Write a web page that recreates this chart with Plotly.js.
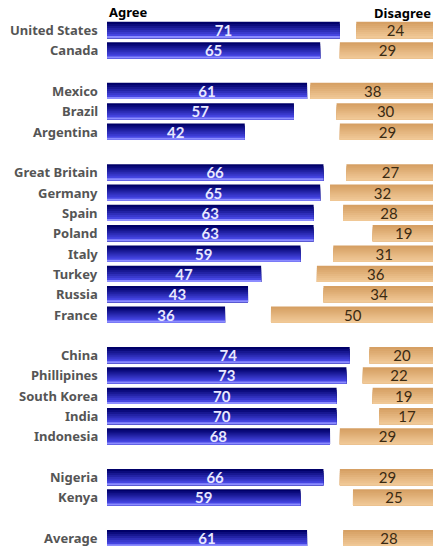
<!DOCTYPE html>
<html><head><meta charset="utf-8">
<script src="https://cdn.plot.ly/plotly-3.0.1.min.js"></script>
<style>html,body{margin:0;padding:0;background:#fff;overflow:hidden;}#chart{width:433px;height:546px;}</style>
</head><body><div id="chart"></div>
<script>
const countries = ["United States","Canada","Mexico","Brazil","Argentina","Great Britain","Germany","Spain","Poland","Italy","Turkey","Russia","France","China","Phillipines","South Korea","India","Indonesia","Nigeria","Kenya","Average"];
const agree = [71,65,61,57,42,66,65,63,63,59,47,43,36,74,73,70,70,68,66,59,61];
const disagree = [24,29,38,30,29,27,32,28,19,31,36,34,50,20,22,19,17,29,29,25,28];
const groupSizes = [2,3,8,5,2,1];
const total = 100;

// row index for each country: one empty row between groups
const rows = [];
let r = 0;
groupSizes.forEach(n => { for (let i = 0; i < n; i++) rows.push(r++); r++; });

const nBands = 8, barH = 0.8;
function lerp(a,b,t){return Math.round(a+(b-a)*t);}
function band(c0,c1,t){return `rgb(${lerp(c0[0],c1[0],t)},${lerp(c0[1],c1[1],t)},${lerp(c0[2],c1[2],t)})`;}

const traces = [];
const blueTop=[0,0,105], blueBot=[80,80,245];
const tanTop=[214,160,100], tanBot=[240,200,150];
const dBase = disagree.map(d => total - d);
for (let i = 0; i < nBands; i++) {
  const t = i/(nBands-1);
  let bc = band(blueTop, blueBot, t);
  if (i === nBands-1) bc = 'rgb(140,140,255)';
  const off = -barH/2 + i*barH/nBands, w = barH - i*barH/nBands;
  traces.push({type:'bar', orientation:'h', y:rows, x:agree, base:0,
    width:w, offset:off,
    marker:{color:bc, line:{width:0}}, hoverinfo:'skip', showlegend:false});
  traces.push({type:'bar', orientation:'h', y:rows, x:disagree, base:dBase,
    width:w, offset:off,
    marker:{color:band(tanTop, tanBot, t), line:{width:0}}, hoverinfo:'skip', showlegend:false});
}
// text layers
traces.push({type:'bar', orientation:'h', y:rows, x:agree, base:0, width:barH, offset:-barH/2,
  marker:{color:'rgba(0,0,0,0)'}, text:agree.map(String), textposition:'inside', insidetextanchor:'middle',
  constraintext:'none', textangle:0,
  textfont:{family:'Lato, sans-serif', size:15, color:'#e8e8ff', weight:'bold'}, hoverinfo:'skip', showlegend:false});
traces.push({type:'bar', orientation:'h', y:rows, x:disagree, base:dBase, width:barH, offset:-barH/2,
  marker:{color:'rgba(0,0,0,0)'}, text:disagree.map(String), textposition:'inside', insidetextanchor:'middle',
  constraintext:'none', textangle:0,
  textfont:{family:'Lato, sans-serif', size:15, color:'#3a2a12'}, hoverinfo:'skip', showlegend:false});

const labelAnns = countries.map((c, i) => ({
  text:c, xref:'paper', yref:'y', x:0, y:rows[i], xanchor:'right', yanchor:'middle', xshift:-7,
  showarrow:false, font:{family:'Noto Sans, sans-serif', size:13, color:'#555555', weight:'bold'}
}));

const layout = {
  width:433, height:546,
  margin:{l:107, r:0, t:6, b:0, pad:0},
  paper_bgcolor:'#fff', plot_bgcolor:'#fff',
  barmode:'overlay',
  showlegend:false,
  xaxis:{range:[0,99.4], showgrid:false, zeroline:false, showticklabels:false, showline:false, fixedrange:true},
  yaxis:{range:[25.39,-1.181], showgrid:false, zeroline:false, showline:false, showticklabels:false, fixedrange:true},
  annotations:labelAnns.concat([
    {text:'Agree', xref:'paper', yref:'paper', x:0, y:(546-12)/540, xanchor:'left', yanchor:'middle', showarrow:false,
     font:{family:'Noto Sans, sans-serif', size:13, color:'#000', weight:'bold'}},
    {text:'Disagree', xref:'paper', yref:'paper', x:1, y:(546-13)/540, xanchor:'right', yanchor:'middle', showarrow:false,
     font:{family:'Noto Sans, sans-serif', size:13, color:'#000', weight:'bold'}}
  ])
};
Plotly.newPlot('chart', traces, layout, {displayModeBar:false, staticPlot:true});
</script></body></html>
